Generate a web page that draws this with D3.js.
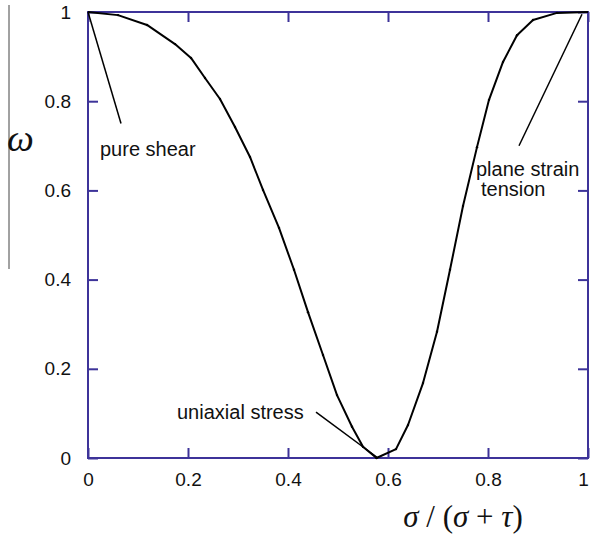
<!DOCTYPE html>
<html>
<head>
<meta charset="utf-8">
<script src="https://cdn.jsdelivr.net/npm/d3@7"></script>
<style>
  html, body { margin: 0; padding: 0; background: #fff; }
  svg { display: block; }
</style>
</head>
<body>
<svg id="chart" width="590" height="537"></svg>
<script>
// Stress-state parameter sigma/(sigma+tau) vs. Lode-type parameter omega
const ratio = [0, 0.06, 0.118, 0.174, 0.206, 0.234, 0.264, 0.294, 0.324, 0.35, 0.382, 0.412, 0.44, 0.47,
  0.498, 0.528, 0.55, 0.577, 0.616, 0.64, 0.67, 0.698, 0.724, 0.75, 0.778, 0.802, 0.83, 0.858, 0.89, 0.938, 1];
const omega = [1, 0.993, 0.971, 0.928, 0.897, 0.852, 0.805, 0.742, 0.675, 0.601, 0.516, 0.422, 0.327, 0.231,
  0.141, 0.07, 0.025, 0, 0.02, 0.074, 0.168, 0.283, 0.422, 0.565, 0.697, 0.803, 0.888, 0.948, 0.982, 0.998, 1];

const xTicks = [0, 0.2, 0.4, 0.6, 0.8, 1];
const yTicks = [0, 0.2, 0.4, 0.6, 0.8, 1];
const xTickLabels = ["0", "0.2", "0.4", "0.6", "0.8", "1"];
const yTickLabels = ["0", "0.2", "0.4", "0.6", "0.8", "1"];

// Annotated stress states: label lines, pointer tip and pointer tail (data coords)
const notes = [
  { lines: ["pure shear"], tip: [0, 1], tail: [0.066, 0.75] },
  { lines: ["plane strain", "tension"], tip: [0.988, 0.995], tail: [0.862, 0.7] },
  { lines: ["uniaxial stress"], tip: [0.58, 0], tail: [0.456, 0.103] }
];

const axisColor = "#3d3399";
const svg = d3.select("#chart");
const plot = { left: 88, right: 588, top: 12, bottom: 458 };

const x = d3.scaleLinear().domain([0, 1]).range([plot.left, plot.right]);
const y = d3.scaleLinear().domain([0, 1]).range([plot.bottom, plot.top]);

const tickFont = "'Liberation Sans', Arial, sans-serif";

function styleAxis(g, showLabels) {
  g.select(".domain").remove();
  g.selectAll(".tick line").attr("stroke", axisColor).attr("stroke-width", 2);
  g.selectAll(".tick text")
    .attr("fill", "#111")
    .style("font-family", tickFont)
    .style("font-size", "19px");
  if (!showLabels) g.selectAll(".tick text").remove();
}

// Bottom and left axes with labels, top and right with ticks only (all ticks point inward)
svg.append("g").attr("transform", `translate(0,${plot.bottom})`)
  .call(d3.axisBottom(x).tickValues(xTicks).tickFormat((d, i) => xTickLabels[i]).tickSizeInner(-10).tickSizeOuter(0).tickPadding(15))
  .call(g => styleAxis(g, true))
  .call(g => g.selectAll(".tick text").filter(d => d === 1).attr("dx", -5));
svg.append("g").attr("transform", `translate(0,${plot.top})`)
  .call(d3.axisTop(x).tickValues(xTicks).tickSizeInner(-10).tickSizeOuter(0))
  .call(g => styleAxis(g, false));
svg.append("g").attr("transform", `translate(${plot.left},0)`)
  .call(d3.axisLeft(y).tickValues(yTicks).tickFormat((d, i) => yTickLabels[i]).tickSizeInner(-10).tickSizeOuter(0).tickPadding(17))
  .call(g => styleAxis(g, true));
svg.append("g").attr("transform", `translate(${plot.right},0)`)
  .call(d3.axisRight(y).tickValues(yTicks).tickSizeInner(-10).tickSizeOuter(0))
  .call(g => styleAxis(g, false));

// Frame
svg.append("rect")
  .attr("x", plot.left).attr("y", plot.top)
  .attr("width", plot.right - plot.left).attr("height", plot.bottom - plot.top)
  .attr("fill", "none").attr("stroke", axisColor).attr("stroke-width", 2);

// Curve
const pts = ratio.map((r, i) => [r, omega[i]]);
const line = d3.line().x(d => x(d[0])).y(d => y(d[1]));
svg.append("path")
  .datum(pts)
  .attr("d", line)
  .attr("fill", "none")
  .attr("stroke", "#000")
  .attr("stroke-width", 2)
  .attr("stroke-linejoin", "round");

svg.append("g").selectAll("circle")
  .data(pts.slice(1, -1))
  .join("circle")
  .attr("cx", d => x(d[0])).attr("cy", d => y(d[1]))
  .attr("r", 1.2).attr("fill", "#000");

// Pointer lines
svg.append("g").selectAll("line")
  .data(notes)
  .join("line")
  .attr("x1", d => x(d.tip[0])).attr("y1", d => y(d.tip[1]))
  .attr("x2", d => x(d.tail[0])).attr("y2", d => y(d.tail[1]))
  .attr("stroke", "#000").attr("stroke-width", 1.5);

// Annotation text (one x per text line)
const labelFont = "'Liberation Sans', Arial, sans-serif";
const notePos = [
  { xs: [100], y: 156 },
  { xs: [476, 481], y: 176 },
  { xs: [177], y: 419 }
];
notes.forEach((n, i) => {
  const p = notePos[i];
  const t = svg.append("text")
    .attr("y", p.y)
    .style("font-family", labelFont)
    .style("font-size", "20px")
    .attr("fill", "#111");
  n.lines.forEach((s, j) => {
    t.append("tspan").attr("x", p.xs[j]).attr("dy", j === 0 ? 0 : 20).text(s);
  });
});

// Axis titles
svg.append("line")
  .attr("x1", 9).attr("y1", 5).attr("x2", 9).attr("y2", 269)
  .attr("stroke", "#444").attr("stroke-width", 1);

svg.append("text")
  .attr("x", 7).attr("y", 151)
  .style("font-family", "'Liberation Serif', 'Times New Roman', serif")
  .style("font-style", "italic")
  .style("font-size", "38px")
  .attr("fill", "#111")
  .text("ω");

const xt = svg.append("text")
  .attr("x", 463).attr("y", 527)
  .attr("text-anchor", "middle")
  .style("font-family", "'Liberation Serif', 'Times New Roman', serif")
  .style("font-size", "31px")
  .attr("fill", "#111")
  .attr("xml:space", "preserve");
xt.append("tspan").style("font-style", "italic").text("σ");
xt.append("tspan").text(" / (");
xt.append("tspan").style("font-style", "italic").text("σ");
xt.append("tspan").text(" + ");
xt.append("tspan").style("font-style", "italic").text("τ");
xt.append("tspan").text(")");
</script>
</body>
</html>
